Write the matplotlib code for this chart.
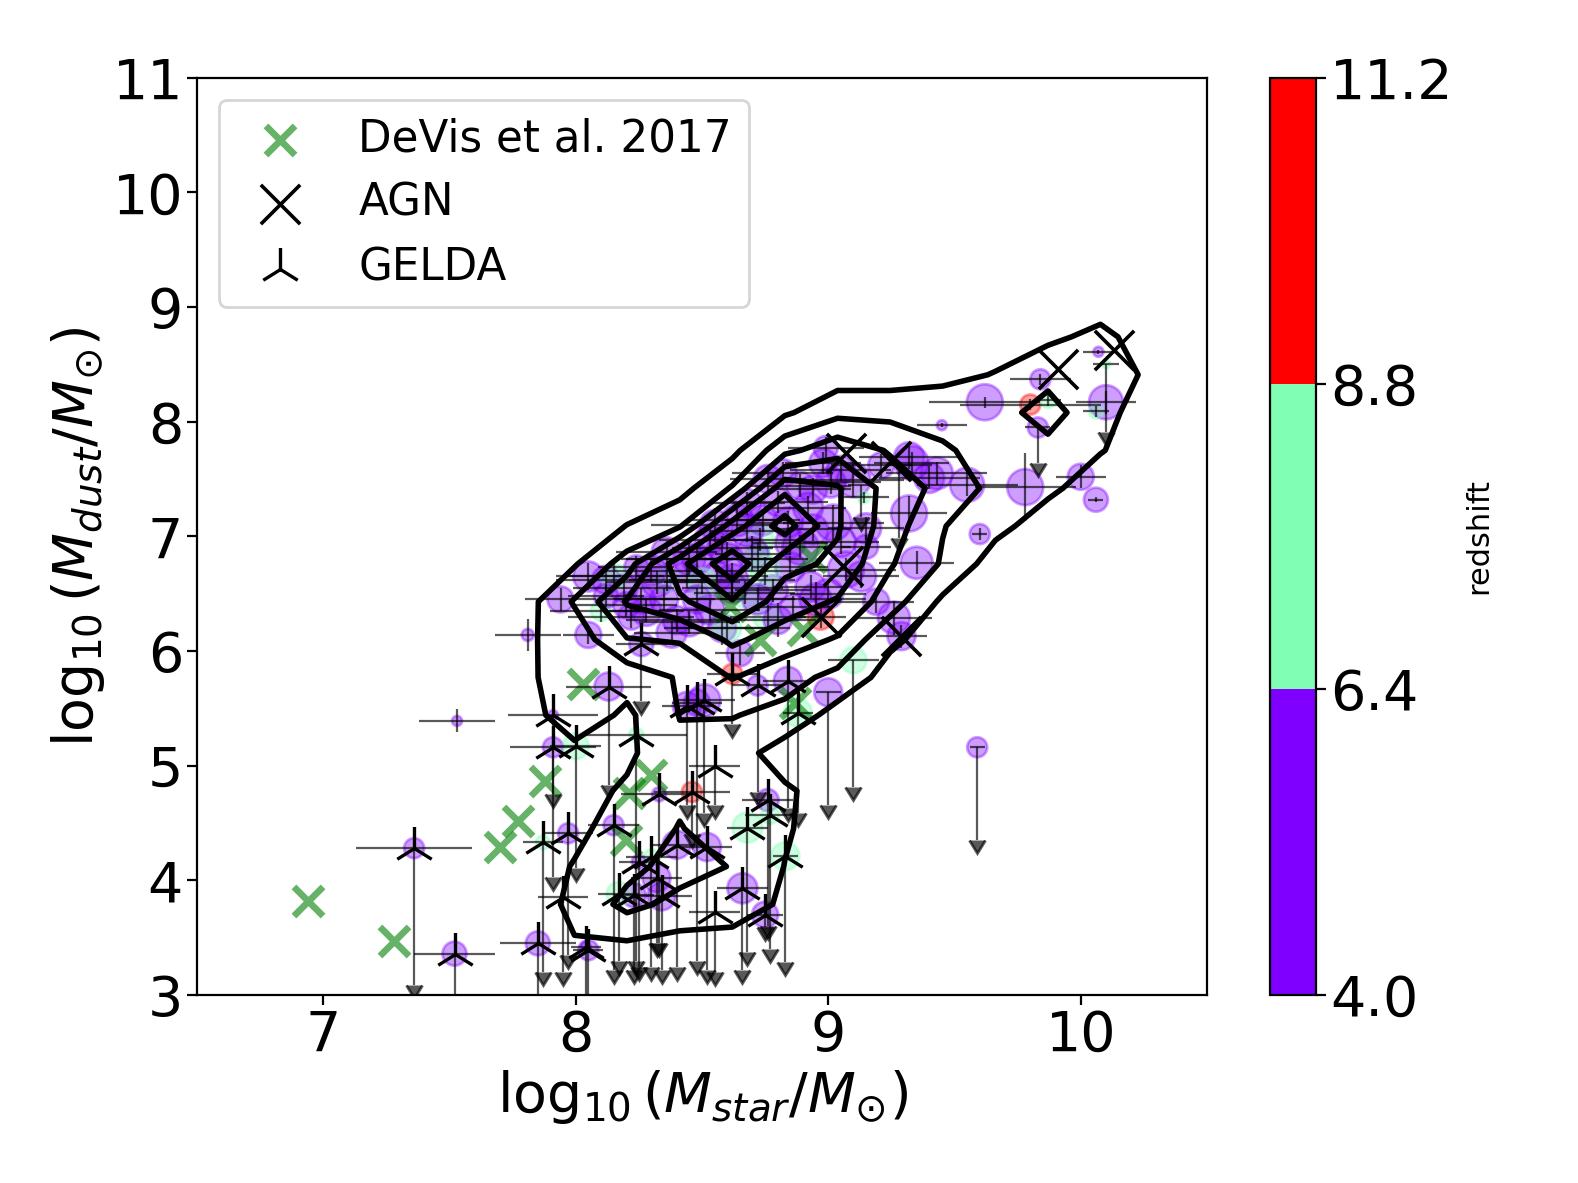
import numpy as np
import matplotlib
matplotlib.use('Agg')
import matplotlib.pyplot as plt
import matplotlib.lines as mlines
from matplotlib.colors import BoundaryNorm
from matplotlib.cm import ScalarMappable

# contour grid (bin centres) and smoothed GELDA counts
grid_x = [7.578, 7.787, 7.995, 8.203, 8.412, 8.620, 8.828, 9.037,
          9.245, 9.453, 9.662, 9.870, 10.078, 10.287, 10.495]
grid_y = [3.13, 3.46, 3.79, 4.12, 4.45, 4.78, 5.11, 5.44, 5.77, 6.10,
          6.43, 6.76, 7.09, 7.42, 7.75, 8.08, 8.41, 8.74, 9.07]
counts = [
    [0, 0, 0, 0, 0, 0, 0, 0, 0, 0, 0, 0, 0, 0, 0],
    [0, 0, 0.46, 0.45, 0.2, 0.3, 0, 0, 0, 0, 0, 0, 0, 0, 0],
    [0, 0, 0.68, 1.8, 1.2, 0.8, 0.41, 0, 0, 0, 0, 0, 0, 0, 0],
    [0, 0, 0.55, 1.2, 1.9, 1.45, 0.48, 0, 0, 0, 0, 0, 0, 0, 0],
    [0, 0, 0.3, 0.9, 1.55, 1.0, 0.6, 0, 0, 0, 0, 0, 0, 0, 0],
    [0, 0, 0.1, 0.65, 1.3, 1.0, 0.65, 0, 0, 0, 0, 0, 0, 0, 0],
    [0, 0, 0.2, 0.3, 1.3, 1.0, 0, 0, 0, 0, 0, 0, 0, 0, 0],
    [0, 0, 1.1, 0.3, 1.53, 1.55, 1.2, 0.1, 0, 0, 0, 0, 0, 0, 0],
    [0, 0.1, 1.4, 0.9, 1.6, 2.55, 1.9, 1.2, 0.1, 0, 0, 0, 0, 0, 0],
    [0, 0.33, 0.9, 2.45, 2.6, 3.7, 3.0, 2.4, 0.7, 0, 0, 0, 0, 0, 0],
    [0, 0, 1.6, 3.6, 4.3, 5.4, 4.0, 3.4, 2.0, 0.3, 0, 0, 0, 0, 0],
    [0, 0, 0.4, 2.0, 5.2, 7.3, 4.8, 4.3, 2.6, 1.4, 0, 0, 0, 0, 0],
    [0, 0, 0, 0.52, 1.4, 5.0, 7.0, 4.6, 3.0, 1.55, 0.8, 0, 0, 0, 0],
    [0, 0, 0, 0, 0.1, 1.6, 5.2, 4.6, 3.1, 2.2, 1.2, 0.7, 0, 0, 0],
    [0, 0, 0, 0, 0, 0.2, 2.2, 3.2, 2.4, 1.6, 1.2, 1.2, 0.55, 0, 0],
    [0, 0, 0, 0, 0, 0, 0.35, 1.2, 1.2, 1.2, 1.1, 1.9, 0.8, 0, 0],
    [0, 0, 0, 0, 0, 0, 0, 0, 0, 0.2, 0.55, 1.2, 1.0, 0.3, 0],
    [0, 0, 0, 0, 0, 0, 0, 0, 0, 0, 0, 0.3, 0.75, 0, 0],
    [0, 0, 0, 0, 0, 0, 0, 0, 0, 0, 0, 0, 0, 0, 0],
]
levels = [0.5, 1.5, 2.5, 3.5, 4.5, 5.5, 6.5]

# detections: position, errors, redshift, circle radius (px)
det_x = [7.53, 7.81, 7.94, 8.05, 8.05, 8.10, 8.19, 8.26, 8.24, 8.32, 8.36, 8.36,
         8.44, 8.53, 8.64, 8.68, 8.74, 8.60, 8.56, 8.67, 8.53, 8.40, 8.38, 8.65,
         8.76, 8.86, 8.98, 9.01, 8.89, 8.94, 8.85, 8.99, 9.10, 9.05, 9.21, 9.32,
         9.40, 9.32, 9.15, 9.14, 9.15, 9.07, 9.13, 9.35, 9.19, 9.26, 9.29, 9.02,
         8.89, 8.84, 8.94, 8.76, 8.73, 8.85, 8.93, 8.78, 8.97, 9.55, 9.45, 9.62,
         9.84, 10.07, 10.10, 9.80, 10.06, 9.87, 10.00, 10.06, 9.78, 9.60, 9.33,
         9.43, 8.62, 8.48, 8.72, 8.80, 8.58, 8.22, 8.12,
         8.30, 8.45, 8.50, 8.58, 8.70, 8.62, 8.48, 8.75, 8.68, 8.80, 8.55, 8.92,
         8.35, 8.15, 8.28, 8.45, 8.72, 8.95, 9.05, 8.82, 9.00, 8.60, 8.20, 8.12]
det_y = [5.39, 6.14, 6.45, 6.65, 6.14, 6.35, 6.55, 6.45, 6.73, 6.60, 6.86, 6.62,
         6.65, 6.97, 7.14, 7.29, 7.14, 6.80, 6.65, 6.51, 6.36, 6.27, 6.16, 5.98,
         6.30, 6.38, 7.64, 7.47, 7.44, 7.06, 6.94, 7.77, 7.49, 7.58, 7.62, 7.69,
         7.51, 7.20, 7.07, 7.34, 6.91, 6.71, 6.65, 6.77, 6.43, 6.29, 6.13, 7.12,
         6.91, 7.12, 7.41, 7.50, 6.97, 6.73, 6.56, 6.53, 6.30, 7.45, 7.97, 8.17,
         8.37, 8.61, 8.17, 8.15, 8.09, 8.19, 7.52, 7.32, 7.43, 7.02, 7.64,
         7.55, 6.62, 6.80, 6.80, 6.27, 6.20, 6.30, 6.62,
         6.70, 6.80, 6.60, 6.90, 6.85, 6.55, 6.45, 6.70, 7.05, 7.30, 7.10, 7.25,
         6.45, 6.65, 6.35, 6.25, 6.45, 6.45, 6.95, 7.55, 6.50, 6.20, 6.40, 6.48]
det_xerr = [0.15, 0.13, 0.14, 0.13, 0.10, 0.20, 0.20, 0.15, 0.15, 0.20, 0.20, 0.15,
            0.20, 0.20, 0.20, 0.15, 0.15, 0.20, 0.20, 0.20, 0.20, 0.20, 0.15, 0.10,
            0.15, 0.15, 0.15, 0.20, 0.20, 0.15, 0.15, 0.15, 0.20, 0.20, 0.20, 0.20,
            0.20, 0.15, 0.15, 0.10, 0.10, 0.20, 0.15, 0.15, 0.15, 0.15, 0.10, 0.20,
            0.20, 0.15, 0.15, 0.15, 0.15, 0.15, 0.15, 0.15, 0.10, 0.20, 0.10, 0.22,
            0.12, 0.06, 0.12, 0.28, 0.05, 0.05, 0.10, 0.03, 0.20, 0.03, 0.15,
            0.20, 0.25, 0.30, 0.20, 0.15, 0.20, 0.25, 0.20,
            0.20, 0.25, 0.15, 0.20, 0.15, 0.20, 0.15, 0.20, 0.15, 0.20, 0.25, 0.15,
            0.20, 0.20, 0.15, 0.20, 0.15, 0.20, 0.15, 0.20, 0.15, 0.25, 0.20, 0.15]
det_yerr = [0.10, 0.14, 0.10, 0.12, 0.08, 0.10, 0.10, 0.10, 0.10, 0.10, 0.10, 0.10,
            0.10, 0.10, 0.10, 0.10, 0.10, 0.15, 0.10, 0.10, 0.10, 0.10, 0.10, 0.10,
            0.10, 0.10, 0.10, 0.10, 0.10, 0.10, 0.10, 0.10, 0.15, 0.10, 0.10, 0.10,
            0.10, 0.15, 0.10, 0.05, 0.10, 0.10, 0.10, 0.10, 0.10, 0.15, 0.10, 0.15,
            0.10, 0.10, 0.10, 0.10, 0.10, 0.10, 0.10, 0.10, 0.10, 0.10, 0.02, 0.05,
            0.05, 0.02, 0.10, 0.05, 0.05, 0.05, 0.10, 0.02, 0.30, 0.05, 0.10,
            0.10, 0.15, 0.10, 0.15, 0.15, 0.15, 0.10, 0.10,
            0.10, 0.15, 0.10, 0.10, 0.15, 0.10, 0.10, 0.12, 0.10, 0.10, 0.15, 0.10,
            0.10, 0.12, 0.10, 0.10, 0.10, 0.15, 0.10, 0.10, 0.12, 0.10, 0.10, 0.10]
det_z = [5.0, 5.0, 5.0, 5.0, 5.0, 7.0, 5.0, 5.0, 5.0, 5.0, 5.0, 7.0,
         5.0, 5.0, 5.0, 5.0, 5.0, 5.0, 5.0, 7.0, 5.0, 5.0, 5.0, 5.0,
         7.0, 5.0, 5.0, 5.0, 5.0, 5.0, 5.0, 5.0, 5.0, 5.0, 5.0, 5.0,
         5.0, 5.0, 5.0, 7.0, 5.0, 5.0, 5.0, 5.0, 5.0, 5.0, 5.0, 5.0,
         5.0, 5.0, 5.0, 5.0, 7.0, 5.0, 5.0, 5.0, 9.5, 5.0, 5.0, 5.0,
         5.0, 5.0, 5.0, 9.5, 7.0, 7.0, 5.0, 5.0, 5.0, 5.0, 5.0,
         5.0, 5.0, 5.0, 7.0, 5.0, 5.0, 5.0, 5.0,
         5.0, 5.0, 7.0, 5.0, 5.0, 5.0, 5.0, 7.0, 5.0, 5.0, 5.0, 5.0,
         5.0, 7.0, 5.0, 5.0, 5.0, 5.0, 5.0, 5.0, 5.0, 7.0, 5.0, 5.0]
det_r = [5, 6, 13, 15, 13, 10, 14, 14, 12, 15, 15, 12,
         15, 15, 16, 14, 15, 16, 15, 15, 15, 14, 15, 13,
         14, 13, 14, 15, 14, 15, 15, 12, 17, 14, 13, 15,
         15, 18, 15, 6, 12, 18, 15, 16, 13, 16, 14, 18,
         18, 15, 14, 14, 14, 15, 15, 15, 13, 17, 5, 18,
         10, 5, 17, 10, 7, 8, 13, 12, 18, 10, 17,
         16, 16, 15, 14, 14, 14, 13, 14,
         15, 16, 14, 15, 16, 15, 14, 15, 16, 14, 15, 15,
         14, 13, 15, 14, 15, 16, 15, 14, 15, 14, 13, 12]

# GELDA upper limits (tri markers): position, x error, end of arrow, redshift, radius
gel_x = [7.36, 7.52, 7.85, 8.04, 7.91, 7.91, 8.00, 8.13, 8.24, 7.97, 7.87, 8.15,
         8.33, 8.46, 8.55, 8.40, 8.52, 8.30, 8.32, 8.34, 8.23, 8.17, 8.66, 8.75,
         8.68, 8.83, 8.76, 8.77, 8.55, 7.95, 8.72, 8.84, 8.62, 8.51, 8.44, 8.48,
         8.88, 8.26, 8.25, 8.05]
gel_y = [4.28, 3.36, 3.45, 3.42, 5.44, 5.16, 5.17, 5.69, 5.27, 4.41, 4.33, 4.48,
         4.75, 4.77, 5.00, 4.31, 4.29, 4.20, 4.02, 3.86, 3.87, 3.88, 3.93, 3.70,
         4.46, 4.21, 4.70, 4.57, 3.72, 3.85, 5.70, 5.74, 5.80, 5.57, 5.52, 5.55,
         5.46, 6.06, 4.16, 3.39]
gel_xerr = [0.23, 0.16, 0.15, 0.06, 0.18, 0.17, 0.10, 0.17, 0.20, 0.10, 0.08, 0.10,
            0.15, 0.15, 0.10, 0.10, 0.10, 0.10, 0.10, 0.12, 0.08, 0.08, 0.10, 0.07,
            0.08, 0.05, 0.10, 0.10, 0.10, 0.10, 0.10, 0.10, 0.10, 0.12, 0.10, 0.10,
            0.06, 0.10, 0.08, 0.06]
gel_yend = [3.09, 2.95, 2.95, 2.95, 4.75, 4.03, 4.11, 4.83, 3.30, 3.35, 3.20, 3.22,
            3.45, 4.40, 4.66, 3.24, 3.22, 3.24, 3.45, 3.22, 3.22, 3.30, 3.22, 3.59,
            3.37, 3.29, 3.60, 3.40, 3.20, 3.20, 4.77, 4.63, 5.36, 4.59, 4.66, 3.30,
            4.59, 5.56, 3.24, 2.95]
gel_z = [5.0, 5.0, 5.0, 5.0, 5.0, 5.0, 7.0, 5.0, 7.0, 5.0, 7.0, 5.0,
         5.0, 9.5, 5.0, 5.0, 5.0, 7.0, 5.0, 5.0, 5.0, 7.0, 5.0, 5.0,
         7.0, 7.0, 5.0, 7.0, 5.0, 5.0, 5.0, 5.0, 9.5, 5.0, 5.0, 5.0,
         7.0, 5.0, 5.0, 5.0]
gel_r = [10, 12, 12, 5, 5, 10, 13, 14, 7, 10, 7, 10,
         7, 10, 0, 14, 14, 8, 14, 14, 12, 12, 15, 13,
         15, 14, 11, 9, 0, 0, 10, 14, 10, 16, 14, 13,
         14, 12, 7, 10]

# other upper limits (no tri marker)
ul_x = [9.59, 9.00, 9.10, 9.83, 9.13, 9.28, 10.10]
ul_y = [5.16, 5.64, 5.92, 7.95, 7.45, 7.62, 8.50]
ul_xerr = [0.03, 0.05, 0.10, 0.05, 0.05, 0.05, 0.05]
ul_yend = [4.35, 4.66, 4.81, 7.64, 7.17, 6.99, 7.91]
ul_z = [5.0, 5.0, 7.0, 5.0, 5.0, 5.0, 7.0]
ul_r = [10, 14, 13, 10, 0, 0, 4]

agn_x = [10.13, 9.91, 9.07, 9.25, 9.06, 9.29, 8.97]
agn_y = [8.63, 8.46, 7.73, 7.66, 6.74, 6.13, 6.30]

devis_x = [6.94, 7.28, 7.70, 7.77, 7.88, 8.03, 8.21, 8.30, 8.20, 8.93, 8.61, 8.90,
           8.73, 8.87]
devis_y = [3.82, 3.47, 4.29, 4.52, 4.87, 5.71, 4.76, 4.92, 4.35, 6.82, 6.39, 6.18,
           6.10, 5.55]

z_bounds = [4.0, 6.4, 8.8, 11.2]

cmap = plt.get_cmap('rainbow', 3)
norm = BoundaryNorm(z_bounds, cmap.N)


def area(r):
    return [(0.72 * v) ** 2 for v in r]


fig = plt.figure(figsize=(7.89, 5.915), dpi=200)
ax = fig.add_axes([0.1248, 0.159, 0.6401, 0.7752])
cax = fig.add_axes([0.8048, 0.159, 0.0292, 0.7752])

ax.contour(grid_x, grid_y, counts, levels=levels, colors='k', linewidths=2.0)

circ_x = det_x + gel_x + ul_x
circ_y = det_y + gel_y + ul_y
circ_z = det_z + gel_z + ul_z
circ_s = area(det_r + gel_r + ul_r)
ax.scatter(circ_x, circ_y, s=circ_s, c=circ_z, cmap=cmap, norm=norm, alpha=0.38)

ax.errorbar(det_x, det_y, xerr=det_xerr, yerr=det_yerr, fmt='none',
            ecolor='k', elinewidth=0.8, alpha=0.65)

lim_x = gel_x + ul_x
lim_y = gel_y + ul_y
lim_end = gel_yend + ul_yend
ax.errorbar(lim_x, lim_y, xerr=gel_xerr + ul_xerr, fmt='none',
            ecolor='k', elinewidth=0.8, alpha=0.65)
ax.vlines(lim_x, lim_end, lim_y, colors='k', linewidth=0.8, alpha=0.65)
ax.plot(lim_x, lim_end, ls='none', marker=mlines.CARETDOWNBASE, ms=6,
        color='k', alpha=0.65)

ax.scatter(devis_x, devis_y, marker='x', s=110, c='green', alpha=0.6,
           linewidths=2.4, label='DeVis et al. 2017')
ax.scatter(agn_x, agn_y, marker='x', s=200, c='k', linewidths=1.3, label='AGN')
ax.scatter(gel_x, gel_y, marker='2', s=240, c='k', linewidths=1.2, label='GELDA')

ax.set_xlim(6.5, 10.5)
ax.set_ylim(3, 11)
ax.set_xticks([7, 8, 9, 10])
ax.set_yticks(range(3, 12))
ax.tick_params(labelsize=20, pad=1.5)
ax.set_xlabel(r'$\log_{10}(M_{star}/M_{\odot})$', fontsize=20, labelpad=2)
ax.set_ylabel(r'$\log_{10}(M_{dust}/M_{\odot})$', fontsize=20, labelpad=2)
ax.legend(loc='upper left', fontsize=15.7)

cb = fig.colorbar(ScalarMappable(norm=norm, cmap=cmap), cax=cax, ticks=z_bounds)
cb.ax.set_yticklabels(['%.1f' % v for v in z_bounds])
cb.ax.tick_params(labelsize=20, pad=1.5)
cb.set_label('redshift', fontsize=11)

fig.savefig('out.png', dpi=200)
